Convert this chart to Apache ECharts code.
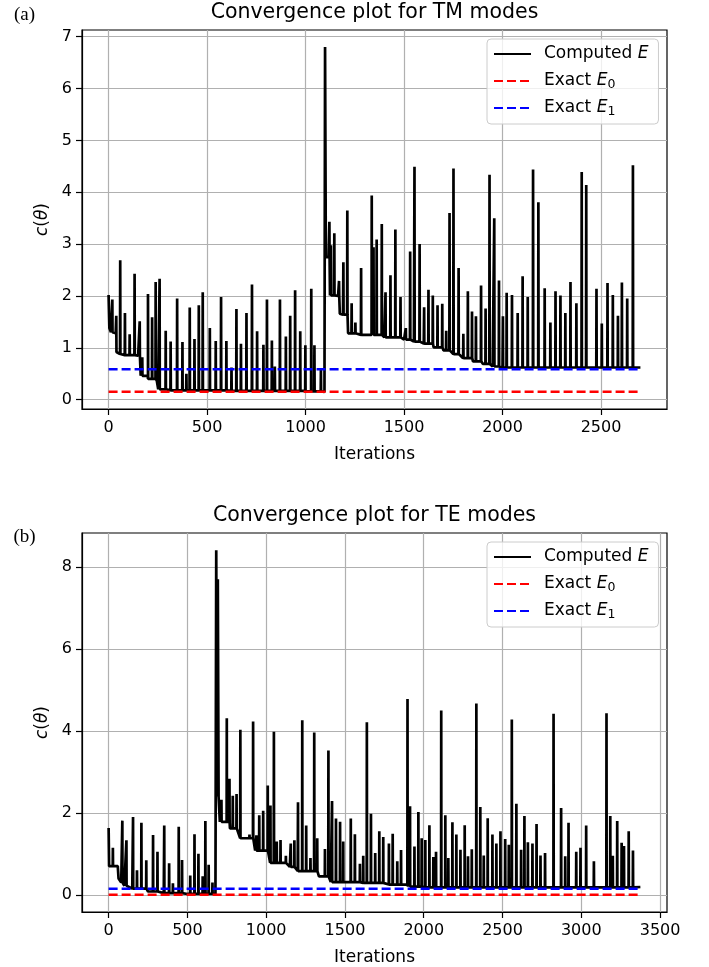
<!DOCTYPE html>
<html>
<head>
<meta charset="utf-8">
<title>Convergence plots</title>
<script src="https://cdn.jsdelivr.net/npm/echarts@6/dist/echarts.min.js"></script>
<style>
  html, body { margin: 0; padding: 0; background: #fff; }
  #chart { width: 709px; height: 967px; }
</style>
</head>
<body>
<div id="chart"></div>
<script>
// ---- (a) TM modes ----
// slow part of the curve (plateaus, the big jump at ~1100)
var tmTrendIter = [0, 4, 12, 36, 40, 58, 64, 150, 163, 200, 245, 252, 300, 600, 1000, 1096, 1099, 1103, 1117, 1124,
                   1165, 1174, 1190, 1216, 1260, 1400, 1500, 1550, 1600, 1650, 1700, 1750, 1800, 1850, 1900, 1950, 2000, 2700];
var tmTrendCost = [2.02, 1.38, 1.30, 1.28, 0.92, 0.88, 0.86, 0.85, 0.46, 0.40, 0.36, 0.20, 0.18, 0.17, 0.16, 0.15, 6.80, 2.75, 2.75, 2.01,
                   2.00, 1.66, 1.64, 1.28, 1.25, 1.20, 1.16, 1.12, 1.08, 1.01, 0.95, 0.88, 0.80, 0.74, 0.69, 0.64, 0.62, 0.62];
// spike peaks
var tmSpikeIter = [19, 39, 59, 83, 107, 132, 158, 171, 200, 221, 239, 259, 290, 315, 348, 375, 395, 412, 436, 458,
                   478, 514, 544, 571, 598, 624, 649, 672, 700, 728, 754, 786, 804, 829, 844, 870, 900, 922, 947, 973,
                   999, 1029, 1045, 1078, 1121, 1129, 1146, 1170, 1192, 1212, 1234, 1253, 1282, 1336, 1345, 1361, 1387, 1406, 1431, 1456,
                   1482, 1509, 1531, 1553, 1579, 1602, 1624, 1646, 1670, 1694, 1714, 1731, 1751, 1777, 1801, 1824, 1845, 1865, 1891, 1914,
                   1934, 1958, 1982, 2002, 2021, 2048, 2077, 2102, 2128, 2155, 2182, 2214, 2243, 2269, 2294, 2319, 2345, 2375, 2402, 2425,
                   2477, 2504, 2533, 2560, 2586, 2606, 2633, 2662];
var tmSpikeCost = [1.93, 1.62, 2.69, 1.67, 1.26, 2.43, 1.51, 0.82, 2.04, 1.59, 2.27, 2.33, 1.33, 1.12, 1.95, 1.11, 0.50, 1.78, 1.17, 1.82,
                   2.07, 1.38, 1.13, 1.98, 1.13, 0.62, 1.75, 1.08, 1.67, 2.22, 1.32, 1.06, 1.93, 1.14, 0.64, 1.93, 1.22, 1.62, 2.11, 1.32,
                   1.05, 2.14, 1.05, 0.59, 3.43, 2.98, 3.21, 2.29, 2.65, 3.65, 1.86, 1.49, 2.54, 3.94, 2.94, 3.09, 3.39, 2.07, 2.40, 3.28,
                   1.98, 1.38, 2.86, 4.49, 3.00, 1.78, 2.12, 2.01, 1.82, 1.85, 1.33, 3.60, 4.46, 2.54, 1.27, 2.09, 1.70, 1.61, 2.20, 1.76,
                   4.34, 3.50, 2.30, 1.61, 2.06, 2.02, 1.67, 2.38, 1.98, 4.44, 3.81, 2.15, 1.49, 2.09, 2.01, 1.67, 2.27, 1.86, 4.39, 4.14,
                   2.14, 1.47, 2.25, 2.02, 1.62, 2.26, 1.95, 4.52];
var tmExact = [0.155, 0.585];      // E0, E1
var tmLastIter = 2700;
var tmIterTicks = [0, 500, 1000, 1500, 2000, 2500];
var tmCostTicks = [0, 1, 2, 3, 4, 5, 6, 7];

// ---- (b) TE modes ----
var teTrendIter = [0, 3, 58, 63, 80, 100, 150, 250, 350, 500, 678, 683, 688, 693, 698, 706, 770, 835, 930, 1025,
                   1150, 1200, 1335, 1410, 1600, 1750, 1900, 2000, 3375];
var teTrendCost = [1.63, 0.70, 0.70, 0.40, 0.30, 0.22, 0.15, 0.08, 0.04, 0.02, 0.02, 8.41, 2.40, 7.70, 2.38, 1.78, 1.62, 1.38, 1.08, 0.78,
                   0.68, 0.58, 0.45, 0.31, 0.29, 0.25, 0.20, 0.18, 0.19];
var teSpikeIter = [27, 87, 113, 155, 180, 208, 239, 282, 310, 353, 384, 408, 445, 466, 518, 545, 570, 597, 614, 635,
                   659, 716, 750, 767, 788, 812, 836, 894, 917, 938, 956, 981, 1010, 1027, 1049, 1067, 1091, 1125, 1156, 1179,
                   1202, 1229, 1254, 1281, 1305, 1324, 1373, 1395, 1418, 1443, 1469, 1489, 1537, 1563, 1595, 1616, 1639, 1665, 1692, 1718,
                   1743, 1779, 1803, 1832, 1856, 1897, 1913, 1941, 1966, 1987, 2010, 2036, 2061, 2078, 2111, 2137, 2156, 2182, 2207, 2233,
                   2260, 2281, 2305, 2334, 2359, 2381, 2406, 2436, 2461, 2487, 2517, 2540, 2559, 2588, 2618, 2639, 2661, 2690, 2716, 2741,
                   2770, 2824, 2872, 2898, 2919, 2968, 2995, 3031, 3080, 3160, 3184, 3200, 3228, 3256, 3271, 3301, 3328];
var teSpikeCost = [1.15, 1.81, 1.33, 1.90, 0.60, 1.76, 0.84, 1.46, 1.05, 1.69, 0.77, 0.28, 1.66, 0.85, 0.47, 1.48, 1.00, 0.45, 1.80, 0.73,
                   0.30, 2.32, 4.31, 2.83, 2.42, 2.46, 4.03, 1.47, 4.23, 1.45, 1.94, 2.05, 2.67, 2.18, 3.98, 1.30, 1.34, 0.95, 1.25, 1.33,
                   2.26, 4.26, 1.69, 0.90, 3.96, 1.38, 1.12, 3.52, 2.29, 1.86, 1.78, 1.30, 1.86, 1.48, 0.76, 0.95, 4.21, 1.98, 1.02, 1.55,
                   1.41, 1.25, 1.49, 0.82, 1.09, 4.78, 2.16, 1.18, 2.02, 1.38, 1.34, 1.70, 0.92, 1.05, 4.50, 1.94, 0.90, 1.77, 1.47, 1.10,
                   1.70, 0.94, 1.11, 4.67, 2.14, 0.96, 1.87, 1.47, 1.25, 1.55, 1.36, 1.22, 4.28, 2.22, 1.10, 1.92, 1.28, 1.25, 1.73, 0.96,
                   1.02, 4.42, 2.12, 0.94, 1.76, 1.05, 1.15, 1.69, 0.82, 4.43, 1.92, 0.95, 1.80, 1.27, 1.19, 1.55, 1.08];
var teExact = [0.0, 0.146];
var teLastIter = 3375;
var teIterTicks = [0, 500, 1000, 1500, 2000, 2500, 3000, 3500];
var teCostTicks = [0, 2, 4, 6, 8];

var FONT = 'DejaVu Sans';

// trend knots + spikes -> one polyline (each spike rises from the trend and drops back)
function buildCurve(trendIter, trendCost, spikeIter, spikeCost) {
    function trendAt(x) {
        var v = trendCost[0];
        for (var k = 0; k < trendIter.length && trendIter[k] <= x; k++) v = trendCost[k];
        return v;
    }
    var pts = trendIter.map(function (x, k) { return [x, trendCost[k]]; });
    spikeIter.forEach(function (x, k) {
        pts.push([x - 1, trendAt(x - 1)], [x, spikeCost[k]], [x + 1, trendAt(x + 1)]);
    });
    pts.sort(function (a, b) { return a[0] - b[0]; });
    return pts;
}

function plain(v) { return String(v); }

function xAxisFor(gi, min, max, ticks) {
    return {
        gridIndex: gi, type: 'value', min: min, max: max,
        name: 'Iterations', nameLocation: 'middle', nameGap: 37,
        nameTextStyle: { fontFamily: FONT, fontSize: 17, color: '#000' },
        axisLine: { show: true, onZero: false, lineStyle: { color: '#000', width: 1.2 } },
        axisTick: { show: true, inside: false, length: 6, customValues: ticks, lineStyle: { color: '#000', width: 1.2 } },
        axisLabel: { customValues: ticks, formatter: plain, margin: 11, fontFamily: FONT, fontSize: 16, color: '#000' },
        splitLine: { show: true, lineStyle: { color: '#b0b0b0', width: 1.2 } }
    };
}
function yAxisFor(gi, min, max, ticks) {
    return {
        gridIndex: gi, type: 'value', min: min, max: max,
        name: '{i|c}({i|θ})', nameLocation: 'middle', nameRotate: 90, nameGap: 28,
        nameTextStyle: { fontFamily: FONT, fontSize: 17, color: '#000', rich: { i: { fontStyle: 'italic', fontFamily: FONT, fontSize: 17 } } },
        axisLine: { show: true, onZero: false, lineStyle: { color: '#000', width: 1.2 } },
        axisTick: { show: true, inside: false, length: 6, customValues: ticks, lineStyle: { color: '#000', width: 1.2 } },
        axisLabel: { customValues: ticks, formatter: plain, margin: 10, fontFamily: FONT, fontSize: 16, color: '#000' },
        splitLine: { show: true, lineStyle: { color: '#b0b0b0', width: 1.2 } }
    };
}
function legendFor(top) {
    return {
        orient: 'vertical', left: 487, top: top,
        data: ['Computed E', 'Exact E0', 'Exact E1'],
        itemWidth: 37, itemHeight: 14, itemGap: 7,
        padding: [5, 10, 6, 6],
        backgroundColor: 'rgba(255,255,255,0.8)', borderColor: '#cccccc', borderWidth: 1, borderRadius: 4,
        selectedMode: false,
        itemStyle: { opacity: 0 },
        formatter: function (name) {
            if (name === 'Computed E') return 'Computed {i|E}';
            if (name === 'Exact E0') return 'Exact {i|E}{s|0}';
            return 'Exact {i|E}{s|1}';
        },
        textStyle: {
            fontFamily: FONT, fontSize: 17, color: '#000', lineHeight: 20, padding: [0, 0, 0, 8],
            rich: {
                i: { fontStyle: 'italic', fontFamily: FONT, fontSize: 17, color: '#000', lineHeight: 20 },
                s: { fontFamily: FONT, fontSize: 12.5, color: '#000', lineHeight: 13, verticalAlign: 'bottom' }
            }
        }
    };
}
function curveSeries(gi, data) {
    return {
        name: 'Computed E', type: 'line', xAxisIndex: gi, yAxisIndex: gi,
        data: data, showSymbol: false, symbol: 'none',
        lineStyle: { color: '#000', width: 2.7, join: 'bevel' }, itemStyle: { color: '#000' }
    };
}
function exactSeries(gi, name, value, lastIter, color) {
    return {
        name: name, type: 'line', xAxisIndex: gi, yAxisIndex: gi,
        data: [[0, value], [lastIter, value]], showSymbol: false, symbol: 'none',
        lineStyle: { color: color, width: 2.5, type: [9, 4] }, itemStyle: { color: color }
    };
}

var myChart = echarts.init(document.getElementById('chart'), null, { renderer: 'canvas' });
var option = {
    animation: false,
    backgroundColor: '#fff',
    grid: [
        { left: 82, top: 30, width: 585, height: 379, show: true, borderColor: '#000', borderWidth: 1.2, backgroundColor: 'transparent' },
        { left: 82, top: 533, width: 585, height: 379, show: true, borderColor: '#000', borderWidth: 1.2, backgroundColor: 'transparent' }
    ],
    xAxis: [xAxisFor(0, -135, 2835, tmIterTicks), xAxisFor(1, -169, 3544, teIterTicks)],
    yAxis: [yAxisFor(0, -0.18, 7.13, tmCostTicks), yAxisFor(1, -0.42, 8.83, teCostTicks)],
    legend: [legendFor(39), legendFor(542)],
    graphic: [
        { type: 'text', x: 374.5, y: 13, style: { text: 'Convergence plot for TM modes', fontFamily: FONT, fontSize: 20.5, fill: '#000', align: 'center', verticalAlign: 'middle', textAlign: 'center', textVerticalAlign: 'middle' } },
        { type: 'text', x: 374.5, y: 516, style: { text: 'Convergence plot for TE modes', fontFamily: FONT, fontSize: 20.5, fill: '#000', align: 'center', verticalAlign: 'middle', textAlign: 'center', textVerticalAlign: 'middle' } },
        { type: 'text', x: 24.5, y: 15, style: { text: '(a)', fontFamily: 'Liberation Serif', fontSize: 19, fill: '#000', align: 'center', verticalAlign: 'middle', textAlign: 'center', textVerticalAlign: 'middle' } },
        { type: 'text', x: 24.5, y: 537, style: { text: '(b)', fontFamily: 'Liberation Serif', fontSize: 19, fill: '#000', align: 'center', verticalAlign: 'middle', textAlign: 'center', textVerticalAlign: 'middle' } }
    ],
    series: [
        curveSeries(0, buildCurve(tmTrendIter, tmTrendCost, tmSpikeIter, tmSpikeCost)),
        exactSeries(0, 'Exact E0', tmExact[0], tmLastIter, '#ff0000'),
        exactSeries(0, 'Exact E1', tmExact[1], tmLastIter, '#0000ff'),
        curveSeries(1, buildCurve(teTrendIter, teTrendCost, teSpikeIter, teSpikeCost)),
        exactSeries(1, 'Exact E0', teExact[0], teLastIter, '#ff0000'),
        exactSeries(1, 'Exact E1', teExact[1], teLastIter, '#0000ff')
    ]
};
myChart.setOption(option);
</script>
</body>
</html>
